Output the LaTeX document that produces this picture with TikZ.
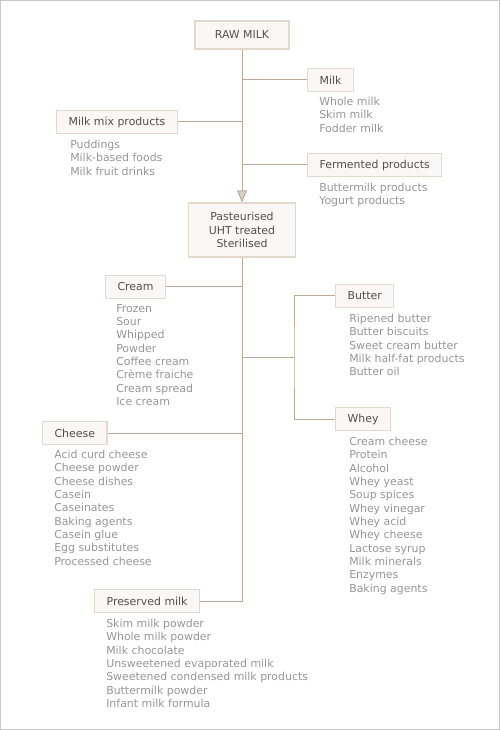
\documentclass[tikz,border=0pt]{standalone}
\usepackage{fontspec}
\setmainfont{DejaVu Sans}
\usepackage{xcolor}
\usetikzlibrary{arrows.meta, positioning}
\definecolor{linegrey}{RGB}{188,170,152}
\definecolor{boxline}{RGB}{226,217,207}
\definecolor{boxfill}{RGB}{249,248,247}
\definecolor{tipfill}{RGB}{216,207,197}
\definecolor{headtext}{RGB}{80,80,80}
\definecolor{itemtext}{RGB}{150,150,150}
\definecolor{frame}{RGB}{200,200,200}
\tikzstyle{stage} = [rectangle, draw=boxline, fill=boxfill, line width=0.9pt, text=headtext, minimum height=17.25pt, inner xsep=9pt, inner ysep=0pt, font=\fontsize{8.2}{10}\selectfont]
\tikzstyle{items} = [anchor=north west, inner sep=0pt, text=itemtext, align=left, font=\fontsize{8.2}{10}\selectfont]
\tikzstyle{link} = [draw=linegrey, line width=0.75pt]

\begin{document}
\begin{tikzpicture}[x=0.75pt, y=-0.75pt]
    % Frame
    \draw[frame, line width=0.75pt] (0.5,0.5) rectangle (499.5,729.5);
    \useasboundingbox (0,0) rectangle (500,730);

    % Top level
    \node[stage, minimum width=70.5pt, minimum height=21pt] (raw) at (242,35) {RAW MILK};
    \node[stage, anchor=west] (milk) at (307,80) {Milk};
    \node[stage, anchor=west] (mix) at (56,122) {Milk mix products};
    \node[stage, anchor=west] (ferm) at (307,165) {Fermented products};
    \node[stage, minimum width=80pt, minimum height=40.5pt, align=center] (past) at (242,230) {Pasteurised\\UHT treated\\Sterilised};

    % Products
    \node[stage, anchor=west] (cream) at (105,287) {Cream};
    \node[stage, anchor=west] (butter) at (335,296) {Butter};
    \node[stage, anchor=west] (whey) at (335,419) {Whey};
    \node[stage, anchor=west] (cheese) at (42,433) {Cheese};
    \node[stage, anchor=west] (preserved) at (94,601) {Preserved milk};

    % Item lists
    \node[items] (milklist) at (319,97) {Whole milk\\Skim milk\\Fodder milk};
    \node[items] (mixlist) at (70,140) {Puddings\\Milk-based foods\\Milk fruit drinks};
    \node[items] (fermlist) at (319,183) {Buttermilk products\\Yogurt products};
    \node[items] (creamlist) at (116,304) {Frozen\\Sour\\Whipped\\Powder\\Coffee cream\\Crème fraiche\\Cream spread\\Ice cream};
    \node[items] (butterlist) at (349,314) {Ripened butter\\Butter biscuits\\Sweet cream butter\\Milk half-fat products\\Butter oil};
    \node[items] (wheylist) at (349,437) {Cream cheese\\Protein\\Alcohol\\Whey yeast\\Soup spices\\Whey vinegar\\Whey acid\\Whey cheese\\Lactose syrup\\Milk minerals\\Enzymes\\Baking agents};
    \node[items] (cheeselist) at (54,450) {Acid curd cheese\\Cheese powder\\Cheese dishes\\Casein\\Caseinates\\Baking agents\\Casein glue\\Egg substitutes\\Processed cheese};
    \node[items] (preservedlist) at (106,619) {Skim milk powder\\Whole milk powder\\Milk chocolate\\Unsweetened evaporated milk\\Sweetened condensed milk products\\Buttermilk powder\\Infant milk formula};

    % Junction of the butter/whey branch
    \coordinate (bw) at (294,357);

    % Flows
    \draw[link, -{Triangle[length=9pt, width=7.5pt, fill=tipfill]}] (raw) -- (past);
    \draw[link] (milk) -- (milk -| raw);
    \draw[link] (mix) -- (mix -| raw);
    \draw[link] (ferm) -- (ferm -| raw);
    \draw[link] (past) |- (preserved);
    \draw[link] (cream) -- (cream -| past);
    \draw[link] (cheese) -- (cheese -| past);
    \draw[link] (bw -| past) -- (bw);
    \draw[link] (butter) -| (bw) |- (whey);

\end{tikzpicture}
\end{document}
